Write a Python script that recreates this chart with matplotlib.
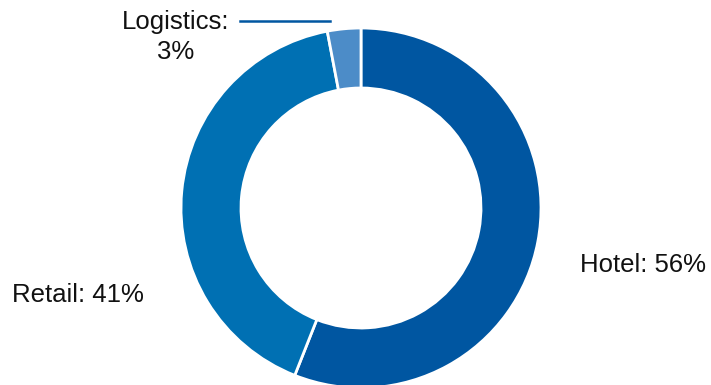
import matplotlib
matplotlib.use("Agg")
import matplotlib.pyplot as plt
from matplotlib.lines import Line2D

categories = ["Hotel", "Retail", "Logistics"]
values = [56, 41, 3]
colors = ["#0056A1", "#0070B3", "#4C8CC8"]

plt.rcParams['font.family'] = ['Liberation Sans', 'DejaVu Sans']

W, H = 711, 385
fig = plt.figure(figsize=(W/100, H/100), dpi=100)
cx, cy, r = 361, 208, 180
ax = fig.add_axes([(cx - r)/W, (H - cy - r)/H, 2*r/W, 2*r/H])
ax.pie(values, colors=colors, startangle=90, counterclock=False, radius=1,
       wedgeprops=dict(width=1/3, edgecolor="white", linewidth=2))
ax.set_xlim(-1, 1)
ax.set_ylim(-1, 1)
ax.set_aspect("equal")
ax.axis("off")

fs = 18.5
def px(x, y):
    return x / W, 1 - y / H

fig.text(*px(580, 265), f"{categories[0]}: {values[0]}%", fontsize=fs,
         ha="left", va="center", color="#111111")
fig.text(*px(12, 295), f"{categories[1]}: {values[1]}%", fontsize=fs,
         ha="left", va="center", color="#111111")
fig.text(*px(176, 37), f"{categories[2]}:\n{values[2]}%", fontsize=fs,
         ha="center", va="center", multialignment="center", linespacing=1.3,
         color="#111111")
x0, y0 = px(240, 21)
x1, y1 = px(330, 21)
fig.add_artist(Line2D([x0, x1], [y0, y1], transform=fig.transFigure,
                      color="#0056A1", linewidth=1.8))

fig.savefig("out.png", dpi=100)
